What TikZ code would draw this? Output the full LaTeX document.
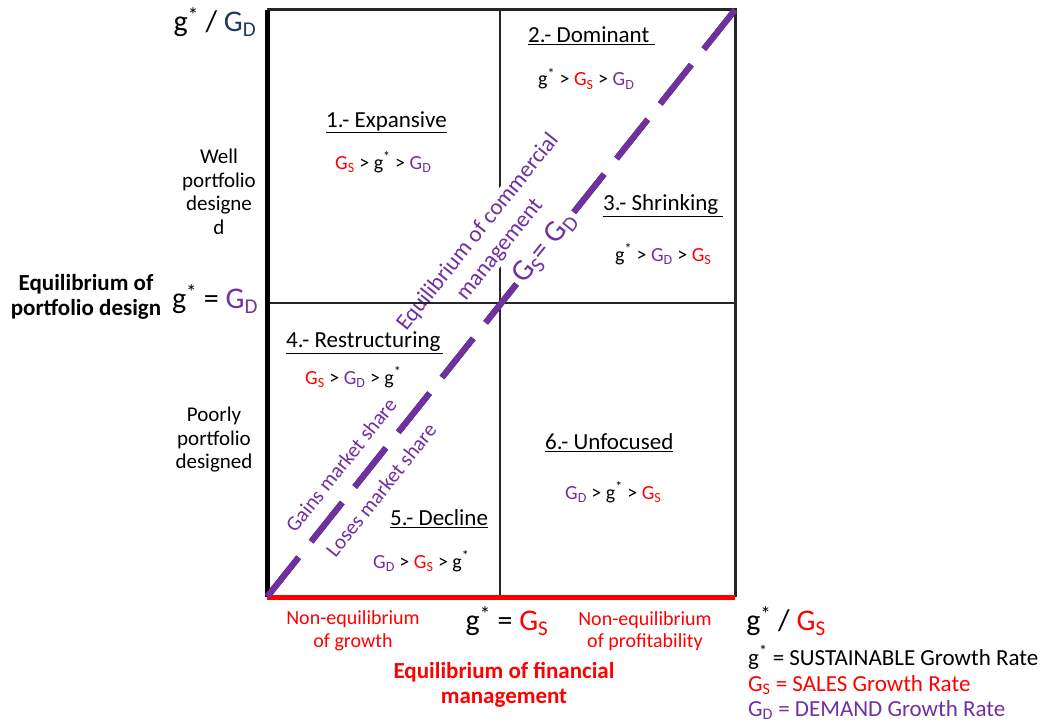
\documentclass[tikz,border=0pt]{standalone}
\usepackage{fontspec}
\setmainfont{Carlito}
\usepackage{tikz}
\usetikzlibrary{positioning}
\definecolor{salesred}{HTML}{FF0000}
\definecolor{demandpurple}{HTML}{7030A0}
\definecolor{axisnavy}{HTML}{1F3864}
\definecolor{diagdark}{HTML}{2B1640}
\newcommand{\gsus}{g\textsuperscript{*}}
\newcommand{\Gsales}{\textcolor{salesred}{G\textsubscript{S}}}
\newcommand{\Gdemand}{\textcolor{demandpurple}{G\textsubscript{D}}}
\tikzset{
  frameline/.style={line width=3pt, draw=black!85},
  gridline/.style={line width=2pt, draw=black!85},
  axisline/.style={line width=5pt},
  diagline/.style={line width=6pt, draw=demandpurple, dash pattern=on 50pt off 20pt},
  diagshadow/.style={line width=6pt, draw=diagdark, dash pattern=on 50pt off 20pt},
  quadtitle/.style={inner sep=0pt, anchor=base west, font=\fontsize{23}{28}\selectfont},
  quadrel/.style={inner sep=0pt, anchor=base west, font=\fontsize{20}{25}\selectfont},
  sidelabel/.style={align=center, inner sep=0pt, font=\fontsize{21}{23.5}\selectfont},
  redlabel/.style={align=center, inner sep=0pt, text=salesred, font=\fontsize{20}{22.5}\selectfont},
  boldlabel/.style={align=center, inner sep=0pt, font=\fontsize{23}{25.5}\selectfont\bfseries},
  axislabel/.style={inner sep=0pt, font=\fontsize{30}{36}\selectfont},
  diaglabel/.style={align=center, inner sep=0pt, rotate=51.4, text=demandpurple},
  legendtext/.style={inner sep=0pt, anchor=base west, font=\fontsize{23}{26}\selectfont},
}
\begin{document}
\begin{tikzpicture}[x=1pt,y=-1pt]
  \useasboundingbox (0,0) rectangle (1042,722);
  % frame corners
  \coordinate (bl) at (267,597);
  \coordinate (br) at (735,597);
  \coordinate (tl) at (267,10);
  \coordinate (tr) at (735,10);
  \coordinate (tm) at (500,10);
  \coordinate (bm) at (500,597);
  \coordinate (ml) at (267,303);
  \coordinate (mr) at (735,303);

  \draw[gridline] (tm) -- (bm);
  \node[diaglabel, fill=white, inner sep=1pt, font=\fontsize{23}{28}\selectfont] (comm) at (489,241)
    {Equilibrium of commercial\\management};
  \draw[gridline] (ml) -- (mr);
  \draw[frameline] (tl) -- (tr) -- (br);
  \draw[axisline] (bl) -- (tl);
  \draw[axisline, salesred] (bl) -- (br);
  \draw[diagshadow, shift={(1.5,1.5)}] (tr) -- (bl);
  \draw[diagline] (tr) -- (bl);
  \node[diaglabel, fill=white, inner sep=4pt, font=\fontsize{30}{36}\selectfont] (eqsd) at (545,248)
    {G\textsubscript{S}= G\textsubscript{D}};
  \node[diaglabel, font=\fontsize{21}{24}\selectfont] (gains) at (341,465) {Gains market share};
  \node[diaglabel, font=\fontsize{21}{24}\selectfont] (loses) at (381,490) {Loses market share};

  % quadrants
  \node[quadtitle] (q1) at (326,127.5) {\underline{1.- Expansive}};
  \node[quadrel] (r1) at (335,169.5) {\Gsales{} > \gsus{} > \Gdemand};
  \node[quadtitle] (q2) at (528,43) {\underline{2.- Dominant\hspace{6pt}}};
  \node[quadrel] (r2) at (538,86) {\gsus{} > \Gsales{} > \Gdemand};
  \node[quadtitle] (q3) at (603,210.5) {\underline{3.- Shrinking\hspace{5pt}}};
  \node[quadrel] (r3) at (615,261.5) {\gsus{} > \Gdemand{} > \Gsales};
  \node[quadtitle] (q4) at (286,347.5) {\underline{4.- Restructuring\hspace{3pt}}};
  \node[quadrel] (r4) at (305,384.5) {\Gsales{} > \Gdemand{} > \gsus};
  \node[quadtitle] (q5) at (390,525.5) {\underline{5.- Decline}};
  \node[quadrel] (r5) at (373,568) {\Gdemand{} > \Gsales{} > \gsus};
  \node[quadtitle] (q6) at (545,449.5) {\underline{6.- Unfocused}};
  \node[quadrel] (r6) at (565,499.5) {\Gdemand{} > \gsus{} > \Gsales};

  % vertical axis
  \node[axislabel] (ytop) at (215,22) {\gsus{} / \textcolor{axisnavy}{G\textsubscript{D}}};
  \node[sidelabel] (well) at (219,192) {Well\\portfolio\\designe\\d};
  \node[boldlabel] (portf) at (86,297) {Equilibrium of\\portfolio design};
  \node[axislabel] (ymid) at (215,299) {\gsus{} = \Gdemand};
  \node[sidelabel] (poor) at (214,440) {Poorly\\portfolio\\designed};

  % horizontal axis
  \node[redlabel] (growth) at (353,631) {Non-equilibrium\\of growth};
  \node[axislabel] (xmid) at (507,621) {\gsus{} = \Gsales};
  \node[redlabel] (profit) at (645,631) {Non-equilibrium\\of profitability};
  \node[boldlabel, text=salesred] (financ) at (504,685) {Equilibrium of financial\\management};
  \node[axislabel] (xend) at (786,621) {\gsus{} / \Gsales};

  % legend
  \node[legendtext] (leg1) at (748,665.5) {\gsus{} = SUSTAINABLE Growth Rate};
  \node[legendtext, text=salesred] (leg2) at (748,691) {\Gsales{} = SALES Growth Rate};
  \node[legendtext, text=demandpurple] (leg3) at (748,716) {\Gdemand{} = DEMAND Growth Rate};
\end{tikzpicture}
\end{document}
